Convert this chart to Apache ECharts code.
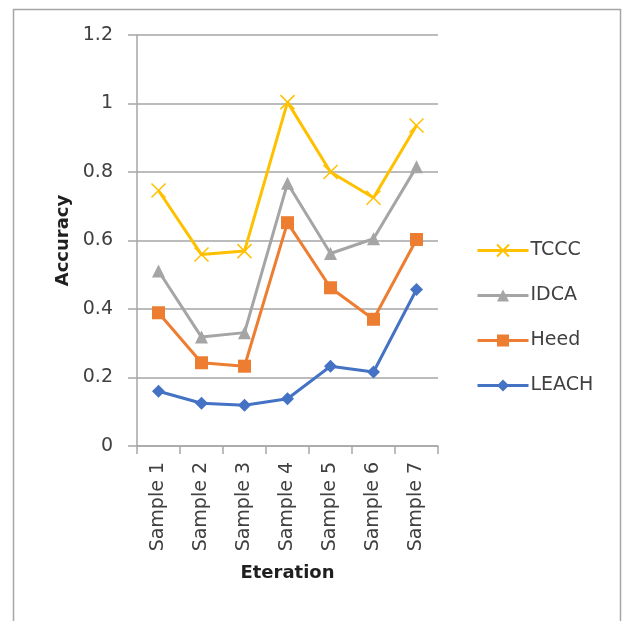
<!DOCTYPE html>
<html>
<head>
<meta charset="utf-8">
<script src="https://cdn.jsdelivr.net/npm/echarts@6/dist/echarts.min.js"></script>
<style>
html,body{margin:0;padding:0;background:#fff;}
#c{width:623px;height:621px;}
</style>
</head>
<body>
<div id="c"></div>
<script>
var categories = ['Sample 1','Sample 2','Sample 3','Sample 4','Sample 5','Sample 6','Sample 7'];
var tccc  = [0.746, 0.559, 0.569, 1.004, 0.800, 0.725, 0.936];
var idca  = [0.511, 0.318, 0.331, 0.767, 0.562, 0.605, 0.815];
var heed  = [0.389, 0.243, 0.233, 0.652, 0.462, 0.370, 0.603];
var leach = [0.160, 0.125, 0.119, 0.138, 0.233, 0.216, 0.457];
var yTicks = {min: 0, max: 1.2, interval: 0.2};

var FONT = 'DejaVu Sans';
var chart = echarts.init(document.getElementById('c'), null, {renderer:'canvas'});

function mk(name, data, color, symbol, size, extra){
  var s = {
    name: name, type: 'line', data: data,
    symbol: symbol, symbolSize: size,
    lineStyle: {color: color, width: 3},
    itemStyle: {color: color},
    animation: false, z: 2
  };
  if (extra) { for (var k in extra) s[k] = extra[k]; }
  return s;
}

chart.setOption({
  backgroundColor: '#fff',
  animation: false,
  graphic: [{
    type: 'rect', silent: true, z: -1,
    shape: {x: 13.5, y: 9.5, width: 607, height: 640},
    style: {fill: 'none', stroke: '#a6a6a6', lineWidth: 1.5}
  }],
  grid: {left: 137, top: 35, width: 301, height: 411, containLabel: false},
  legend: {
    orient: 'vertical', left: 471, top: 236, itemGap: 26,
    itemWidth: 51, itemHeight: 15,
    lineStyle: {width: 3},
    textStyle: {fontFamily: FONT, fontSize: 19, color: '#404040', padding: [0,0,0,-3]},
    data: ['TCCC','IDCA','Heed','LEACH']
  },
  xAxis: {
    type: 'category', data: categories, boundaryGap: true,
    name: 'Eteration', nameLocation: 'middle', nameGap: 118,
    nameTextStyle: {fontFamily: FONT, fontSize: 18, fontWeight: 'bold', color: '#1f1f1f'},
    axisLine: {show: true, lineStyle: {color: '#a6a6a6', width: 1.5}},
    axisTick: {show: true, length: 8, alignWithLabel: false, lineStyle: {color: '#a6a6a6', width: 1.5}},
    axisLabel: {rotate: 90, margin: 16, fontFamily: FONT, fontSize: 19, color: '#404040'},
    splitLine: {show: false}
  },
  yAxis: {
    type: 'value', min: yTicks.min, max: yTicks.max, interval: yTicks.interval,
    name: 'Accuracy', nameLocation: 'middle', nameGap: 65,
    nameTextStyle: {fontFamily: FONT, fontSize: 18, fontWeight: 'bold', color: '#1f1f1f'},
    axisLine: {show: true, lineStyle: {color: '#a6a6a6', width: 1.5}},
    axisTick: {show: true, length: 9, lineStyle: {color: '#a6a6a6', width: 1.5}},
    axisLabel: {margin: 24, fontFamily: FONT, fontSize: 19, color: '#404040'},
    splitLine: {show: true, lineStyle: {color: '#a6a6a6', width: 1.5}}
  },
  series: [
    mk('LEACH', leach, '#4472C4', 'diamond', [13, 13]),
    mk('Heed', heed, '#ED7D31', 'rect', 13),
    mk('IDCA', idca, '#A5A5A5', 'triangle', 13),
    mk('TCCC', tccc, '#FFC000', 'path://M0,0L10,10M10,0L0,10', 14,
       {itemStyle: {color: '#FFC000', borderColor: '#FFC000', borderWidth: 1.5}})
  ]
});
</script>
</body>
</html>
